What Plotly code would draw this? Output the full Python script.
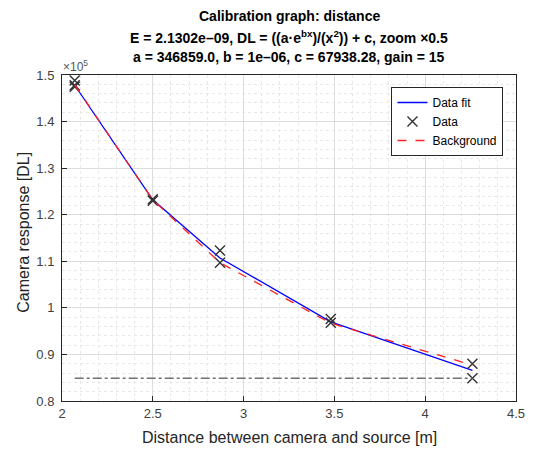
import plotly.graph_objects as go

# ---- data (camera response in units of 1e5 DL) ----
data_x = [2.07, 2.07, 2.07, 2.5, 2.5, 2.87, 2.87, 3.48, 3.48, 4.26, 4.26]
data_y = [1.488, 1.478, 1.475, 1.233, 1.230, 1.123, 1.097, 0.976, 0.968, 0.880, 0.849]
fit_x = [2.07, 2.5, 2.87, 3.48, 4.26]
fit_y = [1.478, 1.232, 1.107, 0.970, 0.866]
bg_y = [1.479, 1.232, 1.097, 0.967, 0.877]
base_x = [2.07, 4.26]
base_y = [0.849, 0.849]

x_ticks = [2, 2.5, 3, 3.5, 4, 4.5]
x_labels = ["2", "2.5", "3", "3.5", "4", "4.5"]
y_ticks = [0.8, 0.9, 1.0, 1.1, 1.2, 1.3, 1.4, 1.5]
y_labels = ["0.8", "0.9", "1", "1.1", "1.2", "1.3", "1.4", "1.5"]

title_lines = [
    "Calibration graph: distance",
    "E = 2.1302e\u201309, DL = ((a\u00b7e<sup>bx</sup>)/(x<sup>2</sup>)) + c, zoom \u00d70.5",
    "a = 346859.0, b = 1e\u201306, c = 67938.28, gain = 15",
]

FONT = "Liberation Sans, Arial, sans-serif"
W, H = 537, 450
ML, MR, MT, MB = 62, 12, 75, 49
PW, PH = W - ML - MR, H - MT - MB


def px_to_paper_y(py):
    return (H - MB - py) / PH


def px_to_paper_x(px):
    return (px - ML) / PW


fig = go.Figure()
fig.add_trace(go.Scatter(x=fit_x, y=fit_y, mode="lines", name="Data fit",
                         line=dict(color="#0000ff", width=1.3)))
fig.add_trace(go.Scatter(x=data_x, y=data_y, mode="markers", name="Data",
                         marker=dict(symbol="x-thin", size=10, color="#333333",
                                     line=dict(width=1.4, color="#333333"))))
fig.add_trace(go.Scatter(x=fit_x, y=bg_y, mode="lines", name="Background",
                         line=dict(color="#ff2020", width=1.3, dash="dash")))
fig.add_trace(go.Scatter(x=base_x, y=base_y, mode="lines", showlegend=False,
                         line=dict(color="#707070", width=1.5, dash="dashdot")))

axis_common = dict(
    showline=True, mirror=True, linecolor="#262626", linewidth=1,
    ticks="inside", ticklen=5, tickcolor="#262626",
    tickfont=dict(family=FONT, size=13, color="#404040"),
    showgrid=True, gridcolor="#dcdcdc", gridwidth=1, zeroline=False,
)

fig.update_xaxes(range=[2, 4.5], tickvals=x_ticks, ticktext=x_labels,
                 minor=dict(dtick=0.1, showgrid=True, griddash="dot",
                            gridcolor="#e8e8e8", ticks=""),
                 **axis_common)
fig.update_yaxes(range=[0.8, 1.5], tickvals=y_ticks, ticktext=y_labels,
                 ticklabelstandoff=4,
                 minor=dict(dtick=0.02, showgrid=True, griddash="dot",
                            gridcolor="#e8e8e8", ticks=""),
                 **axis_common)

annotations = []
for i, (line, py) in enumerate(zip(title_lines, [16, 37, 57])):
    annotations.append(dict(text="<b>" + line + "</b>", xref="paper", yref="paper",
                            x=0.5, y=px_to_paper_y(py), xanchor="center", yanchor="middle",
                            showarrow=False, font=dict(family=FONT, size=14, color="#000000")))
annotations.append(dict(text="\u00d710<sup>5</sup>", xref="paper", yref="paper",
                        x=px_to_paper_x(61), y=px_to_paper_y(66), xanchor="left",
                        yanchor="middle", showarrow=False,
                        font=dict(family=FONT, size=12, color="#555555")))
annotations.append(dict(text="Camera response [DL]", xref="paper", yref="paper",
                        x=px_to_paper_x(22), y=px_to_paper_y(232), xanchor="center",
                        yanchor="middle", textangle=-90, showarrow=False,
                        font=dict(family=FONT, size=16, color="#262626")))
annotations.append(dict(text="Distance between camera and source [m]", xref="paper",
                        yref="paper", x=0.5, y=px_to_paper_y(437), xanchor="center",
                        yanchor="middle", showarrow=False,
                        font=dict(family=FONT, size=16, color="#262626")))

fig.update_layout(
    width=W, height=H,
    margin=dict(l=ML, r=MR, t=MT, b=MB),
    paper_bgcolor="white", plot_bgcolor="white",
    annotations=annotations,
    legend=dict(x=px_to_paper_x(398), y=px_to_paper_y(87), xanchor="left", yanchor="top",
                bgcolor="white", bordercolor="#262626", borderwidth=1,
                font=dict(family=FONT, size=12, color="#000000"),
                itemwidth=30, tracegroupgap=0),
    showlegend=True,
)

fig.write_html("out.html")
